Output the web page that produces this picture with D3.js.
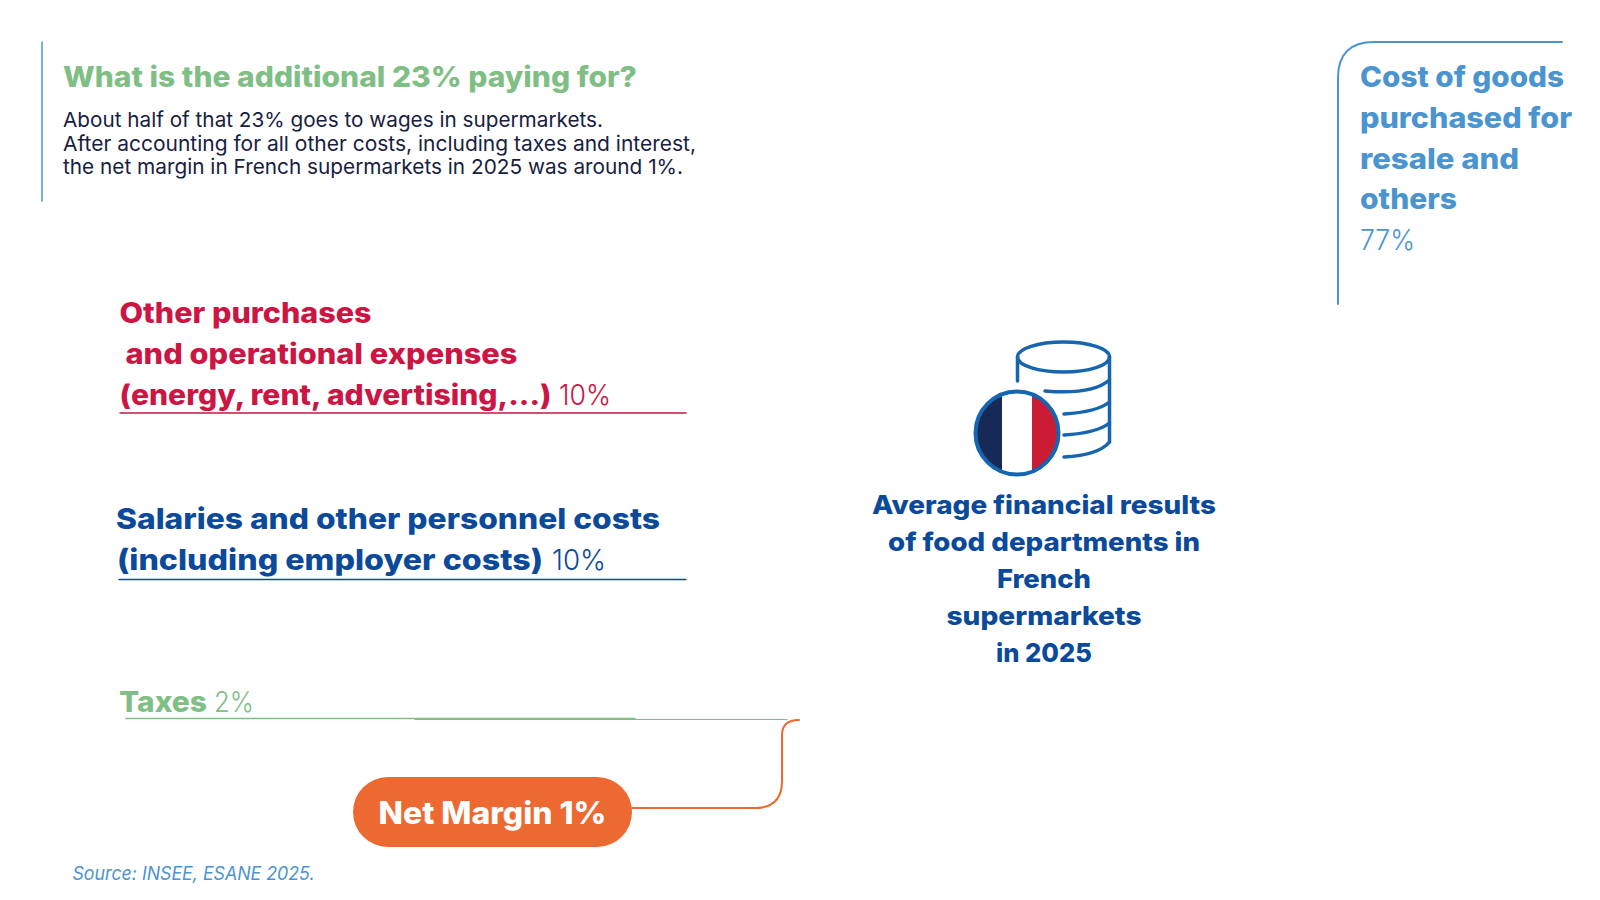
<!DOCTYPE html>
<html>
<head>
<meta charset="utf-8">
<style>
  html, body { margin: 0; background: #fff; }
  svg { display: block; }
  text { font-family: Inter, "Noto Sans", sans-serif; }
</style>
</head>
<body>
<script src="https://cdn.jsdelivr.net/npm/d3@7"></script>
<script>
const width = 1600;
const height = 900;

const heading = "What is the additional 23% paying for?";
const bodyLines = [
  "About half of that 23% goes to wages in supermarkets.",
  "After accounting for all other costs, including taxes and interest,",
  "the net margin in French supermarkets in 2025 was around 1%.",
];
const costLabel = ["Cost of goods", "purchased for", "resale and", "others"];
const costValue = "77%";
const otherLabel = ["Other purchases", "and operational expenses", "(energy, rent, advertising,...)"];
const otherValue = "10%";
const salaryLabel = ["Salaries and other personnel costs", "(including employer costs)"];
const salaryValue = "10%";
const taxLabel = "Taxes";
const taxValue = "2%";
const marginLabel = "Net Margin 1%";
const centerTitle = ["Average financial results", "of food departments in", "French", "supermarkets", "in 2025"];
const source = "Source: INSEE, ESANE 2025.";
const flagColors = ["#172a55", "#ffffff", "#cc1b35"];

const green = "#7fbf85";
const red = "#cc1543";
const blue = "#0b4a9a";
const lightBlue = "#4a94d0";
const orange = "#ec6932";
const ink = "#16213f";
const iconBlue = "#1565b0";

let svg = d3
  .select("body")
  .append("svg")
  .attr("width", width)
  .attr("height", height);

// one line of text squeezed or stretched to the wanted width
function addText(x, y, size, color, weight, str, fitWidth, anchor) {
  return svg
    .append("text")
    .attr("x", x)
    .attr("y", y)
    .attr("font-size", size)
    .attr("font-weight", weight)
    .attr("fill", color)
    .attr("text-anchor", anchor || "start")
    .attr("textLength", fitWidth)
    .attr("lengthAdjust", "spacingAndGlyphs")
    .text(str);
}

function addPath(d, color, sw) {
  return svg
    .append("path")
    .attr("d", d)
    .attr("fill", "none")
    .attr("stroke", color)
    .attr("stroke-width", sw)
    .attr("stroke-linecap", "round");
}

// header block
addPath("M42,42V201", lightBlue, 1.5);
addText(63, 87, 28, green, 800, heading, 574);
const bodyY = [127, 151, 174];
const bodyW = [540, 633, 620];
bodyLines.forEach((l, i) => addText(63, bodyY[i], 20.5, ink, 400, l, bodyW[i]));

// cost of goods frame
addPath("M1338,304V78Q1338,42 1374,42H1562", lightBlue, 2);
const costY = [87, 127.5, 168.5, 209];
const costW = [204, 212, 159, 97];
costLabel.forEach((l, i) => addText(1360, costY[i], 28.5, lightBlue, 800, l, costW[i]));
addText(1360, 250, 29, lightBlue, 300, costValue, 55);

// other purchases
addText(119.5, 323, 28, red, 800, otherLabel[0], 252);
addText(125.5, 364, 28, red, 800, otherLabel[1], 392);
addText(119.5, 405, 28, red, 800, otherLabel[2], 432);
addText(559, 405, 29, red, 300, otherValue, 52);
addPath("M120,413H686", red, 1.5);

// salaries
addText(116, 529, 29, blue, 800, salaryLabel[0], 544);
addText(117, 570, 29, blue, 800, salaryLabel[1], 426);
addText(552, 570, 29, blue, 300, salaryValue, 54);
addPath("M119,579.5H686", blue, 1.5);

// taxes: the line is doubled over its left part in the reference
addText(119, 712, 28, green, 800, taxLabel, 88);
addText(214, 712, 29, green, 300, taxValue, 40);
addPath("M126,718.5H635", green, 1.5);
addPath("M415,719.5H787", green, 1);

// net margin pill and connector
addPath("M632,808H755Q782,808 782,781V735Q782,720 799,720", orange, 2);
svg
  .append("rect")
  .attr("x", 353)
  .attr("y", 777)
  .attr("width", 279)
  .attr("height", 70)
  .attr("rx", 35)
  .attr("fill", orange);
addText(492.5, 823.5, 31, "#fff", 800, marginLabel, 228, "middle");

// database + flag icon
svg
  .append("ellipse")
  .attr("cx", 1063.5)
  .attr("cy", 357)
  .attr("rx", 46)
  .attr("ry", 15)
  .attr("fill", "none")
  .attr("stroke", iconBlue)
  .attr("stroke-width", 3.5);
addPath("M1017.5,357V381", iconBlue, 3.5);
addPath("M1109.5,357V442", iconBlue, 3.5);
addPath("M1045,391Q1092,395 1109.5,380", iconBlue, 3.5);
addPath("M1064,414Q1097,412 1109.5,402", iconBlue, 3.5);
addPath("M1064,435Q1097,433 1109.5,423", iconBlue, 3.5);
addPath("M1064,457Q1099,455 1109.5,442", iconBlue, 3.5);

svg
  .append("clipPath")
  .attr("id", "flag-clip")
  .append("circle")
  .attr("cx", 1017)
  .attr("cy", 433)
  .attr("r", 41);
const flagX = d3.scaleBand().domain(d3.range(flagColors.length)).range([972, 1062]);
svg
  .append("g")
  .attr("clip-path", "url(#flag-clip)")
  .selectAll("rect")
  .data(flagColors)
  .join("rect")
  .attr("x", (d, i) => flagX(i))
  .attr("y", 385)
  .attr("width", flagX.bandwidth())
  .attr("height", 95)
  .attr("fill", (d) => d);
svg
  .append("circle")
  .attr("cx", 1017)
  .attr("cy", 433)
  .attr("r", 41.5)
  .attr("fill", "none")
  .attr("stroke", iconBlue)
  .attr("stroke-width", 4);

// centre title
const titleY = [514.3, 551, 588, 624.5, 662];
const titleW = [344, 312, 94, 195, 96];
centerTitle.forEach((l, i) => addText(1044, titleY[i], 26, blue, 800, l, titleW[i], "middle"));

// source
addText(72.5, 880, 18.5, lightBlue, 400, source, 242).attr("font-style", "italic");
</script>
</body>
</html>
